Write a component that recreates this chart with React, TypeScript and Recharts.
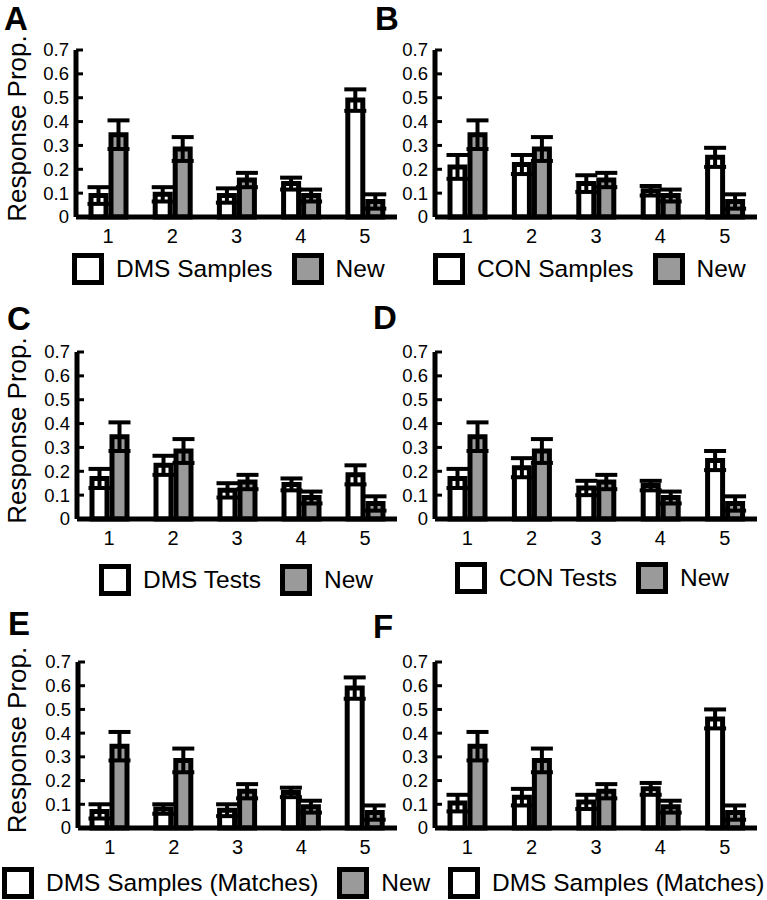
import React from "react"
import { BarChart, Bar, XAxis, YAxis, ErrorBar, Legend } from "recharts"

const categories = ["1", "2", "3", "4", "5"]
const yTicks = [0, 0.1, 0.2, 0.3, 0.4, 0.5, 0.6, 0.7]
const yTickLabels = ["0", "0.1", "0.2", "0.3", "0.4", "0.5", "0.6", "0.7"]

const newValues = [0.345, 0.285, 0.155, 0.09, 0.065]
const newErrors = [0.06, 0.05, 0.03, 0.025, 0.03]

const dmsSamples = [0.09, 0.095, 0.09, 0.14, 0.49]
const dmsSamplesErr = [0.035, 0.03, 0.03, 0.025, 0.045]

const conSamples = [0.21, 0.22, 0.14, 0.11, 0.25]
const conSamplesErr = [0.05, 0.04, 0.035, 0.02, 0.04]

const dmsTests = [0.17, 0.225, 0.12, 0.145, 0.185]
const dmsTestsErr = [0.04, 0.04, 0.03, 0.025, 0.04]

const conTests = [0.17, 0.215, 0.13, 0.14, 0.245]
const conTestsErr = [0.04, 0.04, 0.03, 0.02, 0.04]

const dmsMatches = [0.07, 0.08, 0.075, 0.15, 0.59]
const dmsMatchesErr = [0.03, 0.02, 0.025, 0.02, 0.045]

const conMatches = [0.105, 0.13, 0.11, 0.165, 0.46]
const conMatchesErr = [0.035, 0.035, 0.03, 0.025, 0.04]

const FONT = "'Liberation Sans', Arial, Helvetica, sans-serif"
const GRAY = "#9a9a9a"

function buildRows(vals: number[], errs: number[]) {
  return categories.map((c, i) => ({
    cat: c,
    a: vals[i],
    aErr: errs[i],
    b: newValues[i],
    bErr: newErrors[i],
  }))
}

function XTick(props: any) {
  const { x, y, payload } = props
  return (
    <text x={x} y={y} dy="0.72em" textAnchor="middle" fontSize={20} fill="#000">
      {payload.value}
    </text>
  )
}

function YTick(props: any) {
  const { x, y, payload, index } = props
  const axisX = x + 7
  return (
    <g>
      <text x={x} y={y} dy="0.35em" textAnchor="end" fontSize={18.5} fill="#000">
        {yTickLabels[index] ?? String(payload.value)}
      </text>
      {payload.value > 0 && (
        <line x1={axisX} x2={axisX + 7} y1={y} y2={y} stroke="#000" strokeWidth={3} />
      )}
    </g>
  )
}

function renderYLabel(props: any) {
  const vb = props.viewBox || {}
  const cy = (vb.y ?? 50) + (vb.height ?? 167) / 2 - 5
  const x = 26
  return (
    <text
      x={x}
      y={cy}
      transform={`rotate(-90 ${x} ${cy})`}
      textAnchor="middle"
      fontSize={26}
      fill="#000"
    >
      Response Prop.
    </text>
  )
}

function LegendContent(props: any) {
  const items = (props.payload || []).filter((p: any) => p.type !== "none")
  return (
    <div style={{ display: "flex", alignItems: "center", whiteSpace: "nowrap", fontSize: 24.5, color: "#000" }}>
      {items.map((it: any, i: number) => (
        <div key={i} style={{ display: "flex", alignItems: "center", marginLeft: i ? 19 : 0 }}>
          <span
            style={{
              display: "inline-block",
              width: 32,
              height: 32,
              boxSizing: "border-box",
              border: "5px solid #000",
              background: it.color,
            }}
          />
          <span style={{ marginLeft: 12, lineHeight: "32px" }}>{it.value}</span>
        </div>
      ))}
    </div>
  )
}

interface PanelProps {
  left: number
  top: number
  width: number
  yWidth: number
  marginTop: number
  marginBottom: number
  marginRight: number
  showYLabel: boolean
  name: string
  vals: number[]
  errs: number[]
  legendPos: [number, number]
  hideNew?: boolean
}

function Panel(p: PanelProps) {
  const rows = buildRows(p.vals, p.errs)
  return (
    <div style={{ position: "absolute", left: p.left, top: p.top }}>
      <BarChart
        width={p.width}
        height={300}
        data={rows}
        margin={{ top: p.marginTop, right: p.marginRight, bottom: p.marginBottom, left: 0 }}
        barSize={15}
        barGap={5}
      >
        <XAxis
          dataKey="cat"
          interval={0}
          tickLine={false}
          tickSize={0}
          tickMargin={12}
          height={30}
          axisLine={{ stroke: "#000", strokeWidth: 5 }}
          tick={<XTick />}
        />
        <YAxis
          domain={[0, 0.7]}
          ticks={yTicks}
          interval={0}
          width={p.yWidth}
          tickLine={false}
          tickSize={0}
          tickMargin={7}
          axisLine={{ stroke: "#000", strokeWidth: 5 }}
          tick={<YTick />}
          label={p.showYLabel ? renderYLabel : undefined}
        />
        <Bar dataKey="a" name={p.name} fill="#ffffff" stroke="#000" strokeWidth={5} isAnimationActive={false}>
          <ErrorBar dataKey="aErr" width={11} strokeWidth={4} stroke="#000" />
        </Bar>
        <Bar
          dataKey="b"
          name="New"
          fill={GRAY}
          stroke="#000"
          strokeWidth={5}
          isAnimationActive={false}
          legendType={p.hideNew ? "none" : "rect"}
        >
          <ErrorBar dataKey="bErr" width={11} strokeWidth={4} stroke="#000" />
        </Bar>
        <Legend
          layout="horizontal"
          verticalAlign="middle"
          align="center"
          content={LegendContent}
          wrapperStyle={{ left: p.legendPos[0], top: p.legendPos[1], width: "max-content" }}
        />
      </BarChart>
    </div>
  )
}

function PanelLetter({ letter, x, y }: { letter: string; x: number; y: number }) {
  return (
    <div style={{ position: "absolute", left: x, top: y, fontSize: 33, fontWeight: "bold", lineHeight: 1 }}>
      {letter}
    </div>
  )
}

export default function App() {
  return (
    <div
      style={{
        position: "absolute",
        left: 0,
        top: 0,
        width: 767,
        height: 900,
        background: "#fff",
        fontFamily: FONT,
        overflow: "hidden",
      }}
    >
      <Panel left={0} top={0} width={400} yWidth={76}
        marginTop={50} marginBottom={53} marginRight={3} showYLabel name="DMS Samples"
        vals={dmsSamples} errs={dmsSamplesErr} legendPos={[72, 253]} />
      <Panel left={380} top={0} width={387} yWidth={55}
        marginTop={50} marginBottom={53} marginRight={10} showYLabel={false} name="CON Samples"
        vals={conSamples} errs={conSamplesErr} legendPos={[53, 253]} />
      <Panel left={0} top={300} width={400} yWidth={77}
        marginTop={52} marginBottom={51} marginRight={3} showYLabel name="DMS Tests"
        vals={dmsTests} errs={dmsTestsErr} legendPos={[99, 264]} />
      <Panel left={380} top={300} width={387} yWidth={55}
        marginTop={52} marginBottom={51} marginRight={10} showYLabel={false} name="CON Tests"
        vals={conTests} errs={conTestsErr} legendPos={[75, 262]} />
      <Panel left={0} top={600} width={400} yWidth={78}
        marginTop={62} marginBottom={42} marginRight={3} showYLabel name="DMS Samples (Matches)"
        vals={dmsMatches} errs={dmsMatchesErr} legendPos={[2, 267]} />
      <Panel left={380} top={600} width={387} yWidth={55}
        marginTop={62} marginBottom={42} marginRight={10} showYLabel={false} name="DMS Samples (Matches)"
        vals={conMatches} errs={conMatchesErr} legendPos={[68, 267]} hideNew />
      <PanelLetter letter="A" x={4} y={2} />
      <PanelLetter letter="B" x={375} y={2} />
      <PanelLetter letter="C" x={7} y={302} />
      <PanelLetter letter="D" x={373} y={301} />
      <PanelLetter letter="E" x={8} y={607} />
      <PanelLetter letter="F" x={373} y={610} />
    </div>
  )
}
